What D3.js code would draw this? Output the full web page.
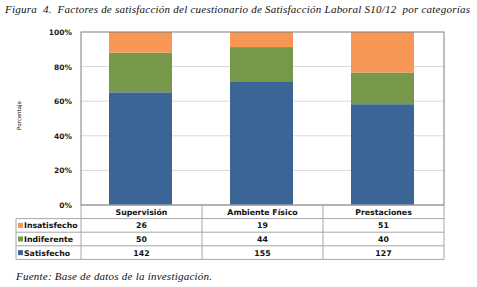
<!DOCTYPE html>
<html lang="es">
<head>
<meta charset="UTF-8">
<script src="https://d3js.org/d3.v7.min.js"></script>
<style>
    body { margin: 0; background: #fff; }
    .title, .source { font-family: "Liberation Serif", serif; font-style: italic; font-size: 11px; fill: #111; }
    .tick-label { font-family: "DejaVu Sans", sans-serif; font-size: 7.5px; font-weight: bold; fill: #222; }
    .cell { font-family: "DejaVu Sans", sans-serif; font-size: 7.8px; font-weight: bold; fill: #111; }
</style>
</head>
<body>
<svg width="477" height="287"></svg>
<script>
    const categories = ["Supervisión", "Ambiente Físico", "Prestaciones"];
    const seriesNames = ["Satisfecho", "Indiferente", "Insatisfecho"];
    const satisfecho = [142, 155, 127];
    const indiferente = [50, 44, 40];
    const insatisfecho = [26, 19, 51];
    const yTicks = [0, 0.2, 0.4, 0.6, 0.8, 1];
    const colors = { "Satisfecho": "#3b6497", "Indiferente": "#77974a", "Insatisfecho": "#f79655" };

    const svg = d3.select("svg");
    const plot = { left: 81, right: 444, top: 32, bottom: 205 };
    const rowH = 13.6;

    const rows = categories.map((c, i) => ({
        cat: c,
        "Satisfecho": satisfecho[i],
        "Indiferente": indiferente[i],
        "Insatisfecho": insatisfecho[i]
    }));
    const stacked = d3.stack().keys(seriesNames).offset(d3.stackOffsetExpand)(rows);

    const x = d3.scaleBand().domain(categories).range([plot.left, plot.right]).paddingInner(0).paddingOuter(0);
    const y = d3.scaleLinear().domain([0, 1]).range([plot.bottom, plot.top]);

    svg.append("text").attr("class", "title").attr("x", 5).attr("y", 13)
        .attr("textLength", 465).attr("lengthAdjust", "spacing")
        .style("white-space", "pre")
        .text("Figura  4.  Factores de satisfacción del cuestionario de Satisfacción Laboral S10/12  por categorías");

    // gridlines
    svg.append("g").selectAll("line").data(yTicks.slice(1, -1)).enter().append("line")
        .attr("x1", plot.left).attr("x2", plot.right)
        .attr("y1", d => y(d)).attr("y2", d => y(d))
        .attr("stroke", "#d9d9d9").attr("stroke-width", 1);

    // tick labels
    svg.append("g").selectAll("text").data(yTicks).enter().append("text")
        .attr("class", "tick-label")
        .attr("x", 72).attr("y", d => y(d) + 3)
        .attr("text-anchor", "end")
        .text(d => d3.format(".0%")(d));

    svg.append("text")
        .attr("transform", `translate(21,${(plot.top + plot.bottom) / 2 - 3}) rotate(-90)`)
        .attr("text-anchor", "middle")
        .style("font-family", "DejaVu Sans, sans-serif").style("font-size", "5.5px")
        .text("Porcentaje");

    // bars
    const barW = 63;
    svg.append("g").selectAll("g").data(stacked).enter().append("g")
        .attr("fill", d => colors[d.key])
        .selectAll("rect").data(d => d).enter().append("rect")
        .attr("x", d => x(d.data.cat) + x.bandwidth() / 2 - barW / 2 - 1)
        .attr("width", barW)
        .attr("y", d => y(d[1]))
        .attr("height", d => y(d[0]) - y(d[1]));

    // plot border
    svg.append("rect").attr("x", plot.left).attr("y", plot.top)
        .attr("width", plot.right - plot.left).attr("height", plot.bottom - plot.top)
        .attr("fill", "none").attr("stroke", "#7f7f7f").attr("stroke-width", 1);

    // data table
    const tableRows = ["Insatisfecho", "Indiferente", "Satisfecho"];
    const tableVals = { "Insatisfecho": insatisfecho, "Indiferente": indiferente, "Satisfecho": satisfecho };
    const tLeft = 16;
    const tTop = plot.bottom;
    const tBottom = tTop + rowH * 4;
    const grid = svg.append("g").attr("stroke", "#a6a6a6").attr("stroke-width", 1);

    [0, 1, 2, 3, 4].forEach(i => {
        grid.append("line")
            .attr("x1", i === 0 ? plot.left : tLeft).attr("x2", plot.right)
            .attr("y1", tTop + rowH * i).attr("y2", tTop + rowH * i);
    });
    grid.append("line").attr("x1", tLeft).attr("x2", tLeft).attr("y1", tTop + rowH).attr("y2", tBottom);
    [plot.left, ...categories.map(c => x(c) + x.bandwidth())].forEach(xx => {
        grid.append("line").attr("x1", xx).attr("x2", xx).attr("y1", tTop).attr("y2", tBottom);
    });

    svg.append("g").selectAll("text").data(categories).enter().append("text")
        .attr("class", "cell")
        .attr("x", d => x(d) + x.bandwidth() / 2).attr("y", tTop + rowH / 2 + 3)
        .attr("text-anchor", "middle").text(d => d);

    tableRows.forEach((r, i) => {
        const yy = tTop + rowH * (i + 1);
        svg.append("rect").attr("x", tLeft + 2).attr("y", yy + rowH / 2 - 2.5)
            .attr("width", 5).attr("height", 5).attr("fill", colors[r]);
        svg.append("text").attr("class", "cell")
            .attr("x", tLeft + 8).attr("y", yy + rowH / 2 + 3).text(r);
        svg.append("g").selectAll("text").data(categories).enter().append("text")
            .attr("class", "cell")
            .attr("x", d => x(d) + x.bandwidth() / 2).attr("y", yy + rowH / 2 + 3)
            .attr("text-anchor", "middle")
            .text((d, j) => tableVals[r][j]);
    });

    svg.append("text").attr("class", "source").attr("x", 16).attr("y", 280)
        .attr("textLength", 196).attr("lengthAdjust", "spacing")
        .text("Fuente: Base de datos de la investigación.");
</script>
</body>
</html>
